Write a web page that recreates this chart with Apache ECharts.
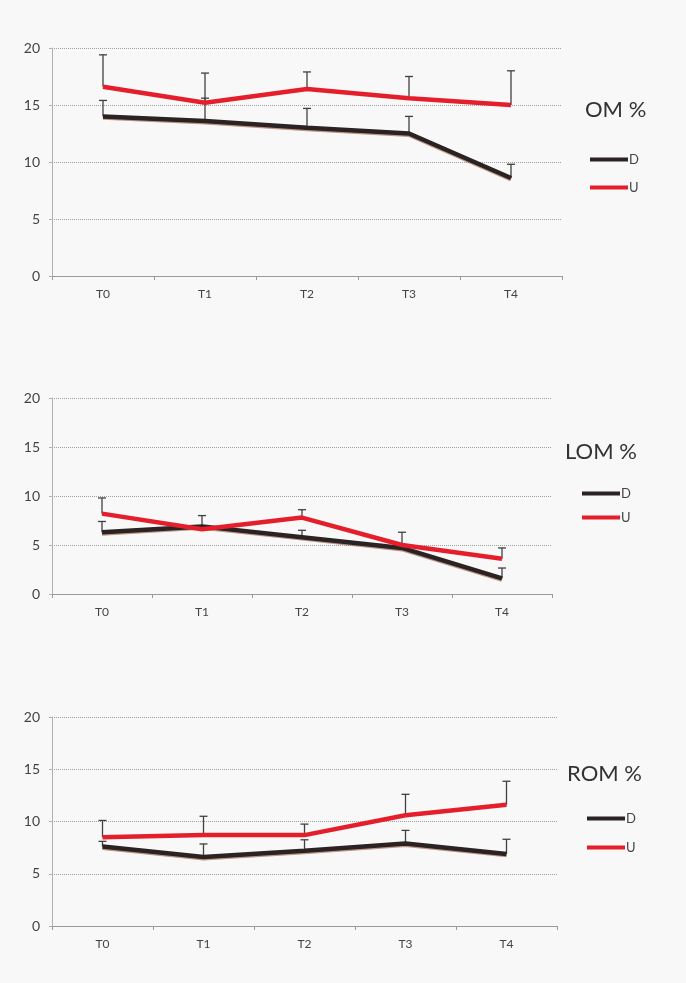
<!DOCTYPE html>
<html>
<head>
<meta charset="utf-8">
<script src="https://cdn.jsdelivr.net/npm/echarts@6/dist/echarts.min.js"></script>
<style>
  html, body { margin: 0; padding: 0; background: #f8f8f8; }
  #chart { width: 686px; height: 983px; }
</style>
</head>
<body>
<div id="chart"></div>
<script>
// Sampling times
const categories = ['T0', 'T1', 'T2', 'T3', 'T4'];
const yTicks = [0, 5, 10, 15, 20];

// OM % : means and standard deviations (upper bars only)
const omD = [14.0, 13.6, 13.0, 12.5, 8.6];
const omDSd = [1.4, 2.0, 1.7, 1.5, 1.2];
const omU = [16.6, 15.2, 16.4, 15.6, 15.0];
const omUSd = [2.8, 2.6, 1.5, 1.9, 3.0];

// LOM %
const lomD = [6.3, 6.9, 5.8, 4.7, 1.6];
const lomDSd = [1.1, 1.1, 0.7, null, 1.05];
const lomU = [8.2, 6.6, 7.8, 5.0, 3.6];
const lomUSd = [1.6, null, 0.8, 1.3, 1.1];

// ROM %
const romD = [7.6, 6.6, 7.2, 7.9, 6.9];
const romDSd = [0.5, 1.25, 1.05, 1.25, 1.4];
const romU = [8.5, 8.7, 8.7, 10.6, 11.6];
const romUSd = [1.6, 1.8, 1.05, 2.0, 2.25];

const panelTitles = ['OM %', 'LOM %', 'ROM %'];

const RED = '#e41f2b';
const DARK = '#2b2223';
const FONT = 'Lato, "Open Sans", sans-serif';

const panels = [
  { d: omD, dSd: omDSd, u: omU, uSd: omUSd,
    grid: { left: 52, top: 48, width: 510, height: 228 },
    title: { left: 580, top: 94 }, legend: { left: 585, top: 148, gap: 15 } },
  { d: lomD, dSd: lomDSd, u: lomU, uSd: lomUSd,
    grid: { left: 52, top: 398, width: 500, height: 196 },
    title: { left: 560, top: 436 }, legend: { left: 577, top: 482, gap: 11 } },
  { d: romD, dSd: romDSd, u: romU, uSd: romUSd,
    grid: { left: 52, top: 717, width: 505, height: 209 },
    title: { left: 562, top: 758 }, legend: { left: 582, top: 807, gap: 16 } }
];

function errData(means, sds) {
  const out = [];
  means.forEach((m, i) => {
    if (sds[i] != null) out.push([i, m, m + sds[i]]);
  });
  return out;
}

function renderErr(params, api) {
  const i = api.value(0);
  const p0 = api.coord([i, api.value(1)]);
  const p1 = api.coord([i, api.value(2)]);
  const st = { stroke: '#404040', lineWidth: 1.3 };
  return {
    type: 'group',
    children: [
      { type: 'line', shape: { x1: p0[0], y1: p0[1], x2: p1[0], y2: p1[1] }, style: st },
      { type: 'line', shape: { x1: p1[0] - 4, y1: p1[1], x2: p1[0] + 4, y2: p1[1] }, style: st }
    ]
  };
}

const grid = [], xAxis = [], yAxis = [], series = [], title = [], legend = [];

panels.forEach((p, k) => {
  grid.push(p.grid);
  xAxis.push({
    type: 'category', gridIndex: k, data: categories, boundaryGap: true,
    axisLine: { lineStyle: { color: '#9a9a9a', width: 1 } },
    axisTick: { show: true, length: 4, inside: false, lineStyle: { color: '#9a9a9a' } },
    axisLabel: { color: '#444', fontSize: 12, fontFamily: FONT, margin: 12 },
    splitLine: { show: false }
  });
  yAxis.push({
    type: 'value', gridIndex: k, min: yTicks[0], max: yTicks[yTicks.length - 1], interval: 5,
    axisLine: { show: true, lineStyle: { color: '#b0b0b0', width: 1 } },
    axisTick: { show: true, length: 3, lineStyle: { color: '#b0b0b0' } },
    axisLabel: { color: '#444', fontSize: 14, fontFamily: FONT, margin: 12 },
    splitLine: { show: true, lineStyle: { color: '#a0a0a0', type: 'dotted', width: 1 } }
  });
  series.push({
    type: 'custom', name: 'D', xAxisIndex: k, yAxisIndex: k, z: 1,
    data: errData(p.d, p.dSd), renderItem: renderErr, encode: { x: 0, y: 1 },
    silent: true
  });
  series.push({
    type: 'custom', name: 'U', xAxisIndex: k, yAxisIndex: k, z: 1,
    data: errData(p.u, p.uSd), renderItem: renderErr, encode: { x: 0, y: 1 },
    silent: true
  });
  series.push({
    type: 'line', name: 'D', xAxisIndex: k, yAxisIndex: k, z: 3,
    data: p.d, symbol: 'none', color: DARK,
    lineStyle: { color: DARK, width: 4.5, shadowColor: 'rgba(140,70,40,0.55)', shadowOffsetY: 1.2 }
  });
  series.push({
    type: 'line', name: 'U', xAxisIndex: k, yAxisIndex: k, z: 4,
    data: p.u, symbol: 'none', color: RED,
    lineStyle: { color: RED, width: 4.5 }
  });
  title.push({
    text: panelTitles[k], left: p.title.left, top: p.title.top,
    textStyle: { color: '#333', fontSize: 22, fontWeight: 'normal', fontFamily: FONT }
  });
  legend.push({
    orient: 'vertical', left: p.legend.left, top: p.legend.top,
    itemGap: p.legend.gap, itemWidth: 38, itemHeight: 4, icon: 'rect',
    data: [
      { name: 'D', itemStyle: { color: DARK } },
      { name: 'U', itemStyle: { color: RED } }
    ],
    textStyle: { color: '#444', fontSize: 13, fontFamily: FONT, padding: [0, 0, 0, -4] },
    selectedMode: false
  });
});

const chart = echarts.init(document.getElementById('chart'), null, { renderer: 'canvas' });
chart.setOption({
  backgroundColor: '#f8f8f8',
  animation: false,
  title, legend, grid, xAxis, yAxis, series
});
</script>
</body>
</html>
